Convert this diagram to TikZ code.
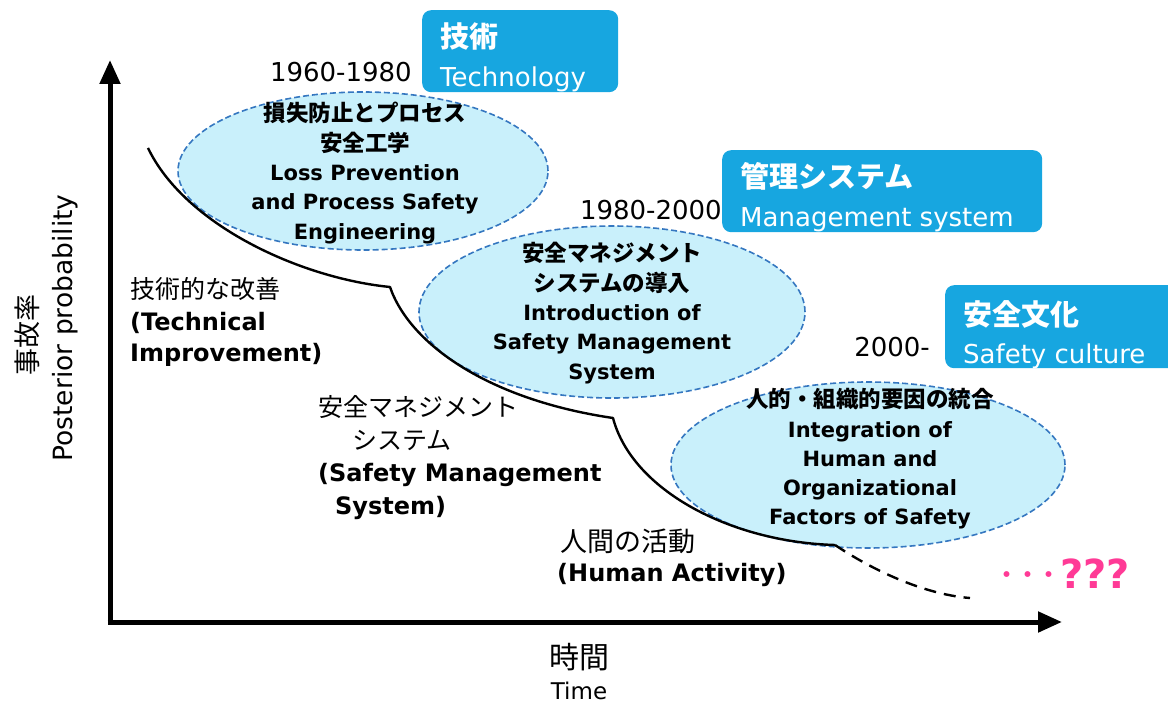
\documentclass[tikz,border=0pt]{standalone}
\usepackage{fontspec}
\usetikzlibrary{arrows.meta,shapes.geometric}
\setmainfont{DejaVu Sans}
\newfontfamily\jp{Noto Sans CJK JP}
\definecolor{boxblue}{HTML}{17A6E0}
\definecolor{ellfill}{HTML}{C9F0FB}
\definecolor{elldraw}{HTML}{3577C0}
\definecolor{pink}{HTML}{FF3A96}
\newcommand{\fsz}[2]{\fontsize{#1}{#2}\selectfont}
\newcommand{\ejp}[1]{{\jp\fsz{22.5}{29}#1}}
\tikzset{
  ell/.style={ellipse, draw=elldraw, fill=ellfill, line width=1.6pt, dash pattern=on 6pt off 3pt, inner sep=0pt},
  elltext/.style={align=center, font=\fsz{21}{29.3}\bfseries, inner sep=0pt},
  era/.style={rounded corners=9pt, fill=boxblue, inner sep=0pt},
  boxjp/.style={text=white, anchor=base west, font=\jp\fsz{29}{30}, inner sep=0pt},
  boxen/.style={text=white, anchor=base west, font=\fsz{26}{30}, inner sep=0pt},
  year/.style={anchor=base east, font=\fsz{26}{30}, inner sep=0pt},
  lbl/.style={anchor=base west, font=\fsz{24}{30}\bfseries, inner sep=0pt},
  lbljp/.style={anchor=base west, font=\jp\fsz{25}{30}, inner sep=0pt},
  axis/.style={line width=5pt, -{Triangle[length=24pt,width=20pt]}},
  trend/.style={line width=2.4pt, line join=round},
}
\begin{document}
\begin{tikzpicture}[x=1pt,y=-1pt]
\useasboundingbox (0,0) rectangle (1168,703);
% era boxes
\node[era, minimum width=196, minimum height=82, anchor=north west] (b1) at (422,10) {};
\node[era, minimum width=320, minimum height=82, anchor=north west] (b2) at (722,150) {};
\node[era, minimum width=240, minimum height=83, anchor=north west] (b3) at (945,285) {};
\node[boxjp] (b1j) at (440,48) {\bfseries 技術};
\node[boxen] (b1e) at (440,87) {Technology};
\node[boxjp] (b2j) at (740,188) {\bfseries 管理システム};
\node[boxen] (b2e) at (740,227) {Management system};
\node[boxjp] (b3j) at (963,326) {\bfseries 安全文化};
\node[boxen] (b3e) at (963,363) {Safety culture};
% years
\node[year] (y1) at (412,82) {1960-1980};
\node[year] (y2) at (722,220) {1980-2000};
\node[year] (y3) at (930,357) {2000-};
% ellipses
\node[ell, minimum width=370, minimum height=158] (e1) at (363,171) {};
\node[ell, minimum width=386, minimum height=172] (e2) at (612,312) {};
\node[ell, minimum width=394, minimum height=166] (e3) at (868,465) {};
% axes
\coordinate (o) at (110,622);
\coordinate (ytop) at (110,60);
\coordinate (xend) at (1062,622);
\draw[axis] ([yshift=2.5pt]o) -- (ytop);
\draw[axis] ([xshift=-2.5pt]o) -- (xend);
% trend curve
\coordinate (c0) at (148,148);
\coordinate (c1) at (390,287);
\coordinate (c2) at (613,418);
\coordinate (c3) at (835,545);
\coordinate (c4) at (970,598);
\draw[trend] (c0) .. controls (185,225) and (300,278) .. (c1)
  .. controls (410,345) and (490,400) .. (c2)
  .. controls (632,490) and (730,542) .. (c3);
\draw[trend, dash pattern=on 12pt off 8pt] (c3) .. controls (880,575) and (930,595) .. (c4);
% ellipse texts
\node[elltext] (t1) at (365,173) {\ejp{損失防止とプロセス}\\\ejp{安全工学}\\Loss Prevention\\and Process Safety\\Engineering};
\node[elltext] (t2) at (612,313) {\ejp{安全マネジメント}\\\ejp{システムの導入}\\Introduction of\\Safety Management\\System};
\node[elltext] (t3) at (870,459) {\ejp{人的・組織的要因の統合}\\Integration of\\Human and\\Organizational\\Factors of Safety};
% left labels
\node[lbljp] (l1a) at (130,299) {技術的な改善};
\node[lbl] (l1b) at (130,331) {(Technical};
\node[lbl] (l1c) at (130,362) {Improvement)};
\node[lbljp] (l2a) at (318,417) {安全マネジメント};
\node[lbljp] (l2b) at (352,449) {システム};
\node[lbl] (l2c) at (318,481) {(Safety Management};
\node[lbl] (l2d) at (335,514) {System)};
\node[lbljp, font=\jp\fsz{27}{30}] (l3a) at (560,551) {人間の活動};
\node[lbl] (l3b) at (557,581) {(Human Activity)};
% question
\node[anchor=base west, text=pink, font=\jp\fsz{21}{30}\bfseries, inner sep=0pt] (qd) at (996,582) {・・・};
\node[anchor=base west, text=pink, font=\fsz{40}{40}\bfseries, inner sep=0pt] (q) at (1060,588) {???};
% axis labels
\node[font=\jp\fsz{27}{30}, rotate=90, inner sep=0pt] (ayj) at (27,335) {事故率};
\node[font=\fsz{26.5}{30}, rotate=90, inner sep=0pt] (aye) at (65,328) {Posterior probability};
\node[font=\jp\fsz{30}{30}, inner sep=0pt] (axj) at (579,657) {時間};
\node[font=\fsz{23}{30}, inner sep=0pt] (axe) at (579,691) {Time};
\end{tikzpicture}
\end{document}
